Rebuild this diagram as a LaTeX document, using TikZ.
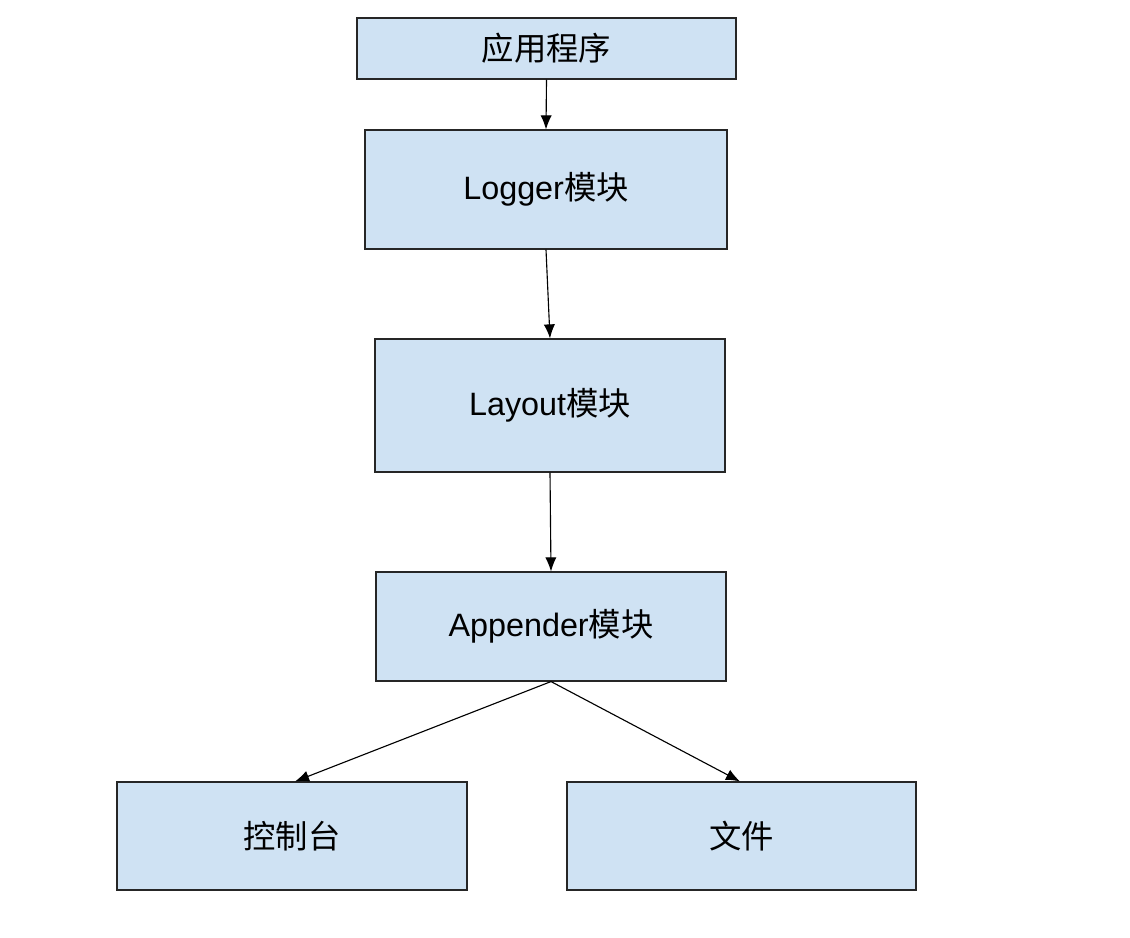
\documentclass[tikz,border=0pt]{standalone}
\usepackage{fontspec}
\setmainfont{Liberation Sans}
\newfontfamily\cjk{Noto Sans CJK SC}
\usetikzlibrary{arrows.meta}
\definecolor{boxblue}{HTML}{CFE2F3}
\tikzset{
  modbox/.style={draw=black!85, fill=boxblue, line width=0.8pt, inner sep=0pt,
    font=\fontsize{23}{27}\selectfont},
  flow/.style={-{Latex[length=10pt,width=8pt]}, line width=0.8pt}
}
\begin{document}
\begin{tikzpicture}[x=0.025cm,y=-0.025cm]
  \useasboundingbox[fill=white] (0,0) rectangle (1130,938);
  % boxes
  \node[modbox, minimum width=379*0.025cm, minimum height=61*0.025cm] (app) at (546.5,48.5) {\cjk 应用程序};
  \node[modbox, minimum width=362*0.025cm, minimum height=119*0.025cm] (logger) at (546,189.5) {Logger{\cjk 模块}};
  \node[modbox, minimum width=350*0.025cm, minimum height=133*0.025cm] (layout) at (550,405.5) {Layout{\cjk 模块}};
  \node[modbox, minimum width=350*0.025cm, minimum height=109*0.025cm] (appender) at (551,626.5) {Appender{\cjk 模块}};
  \node[modbox, minimum width=350*0.025cm, minimum height=108*0.025cm] (console) at (292,836) {\cjk 控制台};
  \node[modbox, minimum width=349*0.025cm, minimum height=108*0.025cm] (file) at (741.5,836) {\cjk 文件};
  % connectors
  \draw[flow] (app.south) -- (logger.north);
  \draw[flow] (logger.south) -- (layout.north);
  \draw[flow] (layout.south) -- (appender.north);
  \draw[flow] (appender.south) -- ([xshift=3*0.025cm]console.north);
  \draw[flow] (appender.south) -- ([xshift=-1.5*0.025cm]file.north);
\end{tikzpicture}
\end{document}
